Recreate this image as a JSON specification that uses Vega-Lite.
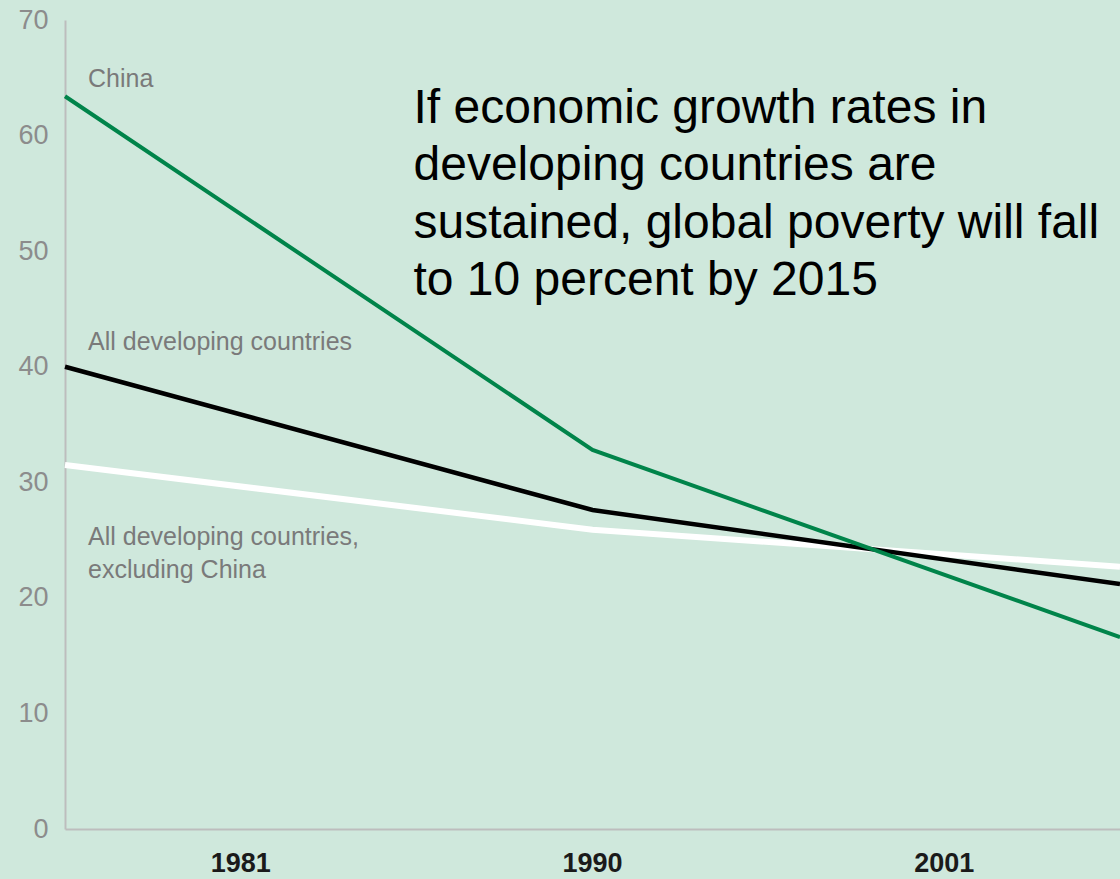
{
  "$schema": "https://vega.github.io/schema/vega-lite/v6.json",
  "width": 1055,
  "height": 809,
  "autosize": "none",
  "padding": {"left": 65, "top": 20, "right": 0, "bottom": 50},
  "background": "#cfe8dc",
  "config": {"view": {"stroke": null}},
  "datasets": {
    "poverty": [
      {"series": "All developing countries, excluding China", "year": "1981", "value": 31.5},
      {"series": "All developing countries, excluding China", "year": "1990", "value": 25.9},
      {"series": "All developing countries, excluding China", "year": "2001", "value": 22.7},
      {"series": "All developing countries", "year": "1981", "value": 40.0},
      {"series": "All developing countries", "year": "1990", "value": 27.6},
      {"series": "All developing countries", "year": "2001", "value": 21.2},
      {"series": "China", "year": "1981", "value": 63.4},
      {"series": "China", "year": "1990", "value": 32.8},
      {"series": "China", "year": "2001", "value": 16.6}
    ],
    "labels": [
      {"label": "China", "year": "1981", "value": 64.2},
      {"label": "All developing countries", "year": "1981", "value": 41.45},
      {"label": "All developing countries,\nexcluding China", "year": "1981", "value": 24.57}
    ],
    "note": [
      {"text": "If economic growth rates in\ndeveloping countries are\nsustained, global poverty will fall\nto 10 percent by 2015", "year": "1990", "value": 61.1}
    ]
  },
  "layer": [
    {
      "data": {"name": "poverty"},
      "mark": {"type": "text", "text": " "},
      "encoding": {
        "x": {
          "field": "year", "type": "ordinal",
          "scale": {"type": "band", "paddingInner": 0, "paddingOuter": 0, "domain": ["1981", "1990", "2001"]},
          "axis": {
            "orient": "bottom", "title": null, "labelAngle": 0, "ticks": false,
            "domain": true, "domainColor": "#bdbdbd", "domainWidth": 2,
            "labelFont": "Liberation Sans", "labelFontSize": 27, "labelFontWeight": "bold",
            "labelColor": "#1a1a1a", "labelPadding": 34, "labelBaseline": "middle"
          }
        }
      }
    },
    {
      "layer": [
        {
          "data": {"name": "poverty"},
          "transform": [{"filter": "datum.series === 'All developing countries, excluding China'"}],
          "mark": {"type": "line", "color": "#ffffff", "strokeWidth": 6},
          "encoding": {
            "x": {"field": "year", "type": "ordinal", "scale": {"type": "point", "padding": 0, "domain": ["1981", "1990", "2001"]}, "axis": null},
            "y": {
              "field": "value", "type": "quantitative",
              "scale": {"domain": [0, 70], "nice": false},
              "axis": {
                "title": null, "values": [0, 10, 20, 30, 40, 50, 60, 70], "grid": false, "ticks": false,
                "domain": true, "domainColor": "#bdbdbd", "domainWidth": 2,
                "labelFont": "Liberation Sans", "labelFontSize": 27, "labelColor": "#8c8c8c",
                "labelPadding": 17
              }
            }
          }
        },
        {
          "data": {"name": "poverty"},
          "transform": [{"filter": "datum.series === 'All developing countries'"}],
          "mark": {"type": "line", "color": "#000000", "strokeWidth": 4.5},
          "encoding": {
            "x": {"field": "year", "type": "ordinal", "scale": {"type": "point", "padding": 0, "domain": ["1981", "1990", "2001"]}, "axis": null},
            "y": {"field": "value", "type": "quantitative"}
          }
        },
        {
          "data": {"name": "poverty"},
          "transform": [{"filter": "datum.series === 'China'"}],
          "mark": {"type": "line", "color": "#00844a", "strokeWidth": 4},
          "encoding": {
            "x": {"field": "year", "type": "ordinal", "scale": {"type": "point", "padding": 0, "domain": ["1981", "1990", "2001"]}, "axis": null},
            "y": {"field": "value", "type": "quantitative"}
          }
        },
        {
          "data": {"name": "labels"},
          "mark": {
            "type": "text", "align": "left", "baseline": "alphabetic", "dx": 23,
            "font": "Liberation Sans", "fontSize": 25, "color": "#7a7a7a",
            "lineBreak": "\n", "lineHeight": 33
          },
          "encoding": {
            "x": {"field": "year", "type": "ordinal", "scale": {"type": "point", "padding": 0, "domain": ["1981", "1990", "2001"]}, "axis": null},
            "y": {"field": "value", "type": "quantitative"},
            "text": {"field": "label"}
          }
        },
        {
          "data": {"name": "note"},
          "mark": {
            "type": "text", "align": "left", "baseline": "alphabetic", "dx": -179,
            "font": "Liberation Sans", "fontSize": 48, "color": "#000000",
            "lineBreak": "\n", "lineHeight": 57.5
          },
          "encoding": {
            "x": {"field": "year", "type": "ordinal", "scale": {"type": "point", "padding": 0, "domain": ["1981", "1990", "2001"]}, "axis": null},
            "y": {"field": "value", "type": "quantitative"},
            "text": {"field": "text"}
          }
        }
      ]
    }
  ],
  "resolve": {"scale": {"x": "independent"}}
}
